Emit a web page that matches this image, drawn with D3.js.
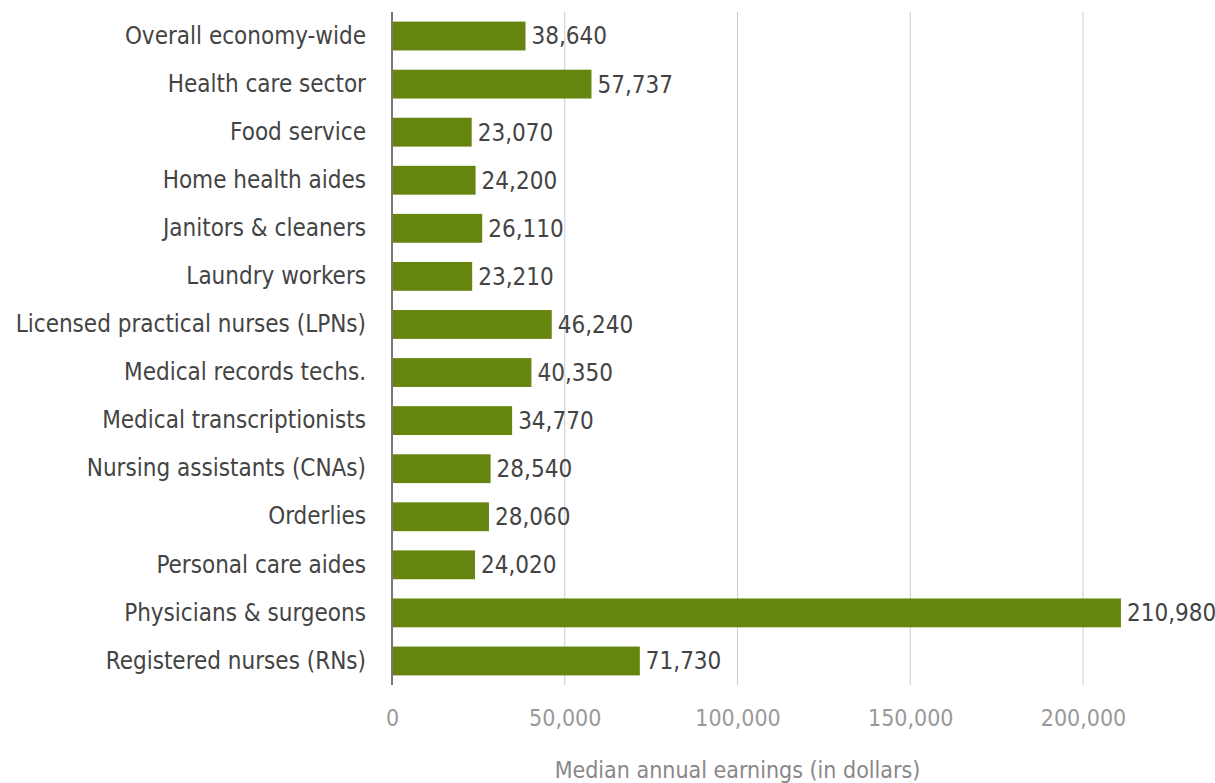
<!DOCTYPE html>
<html>
<head>
<meta charset="utf-8">
<script src="https://cdn.jsdelivr.net/npm/d3@7"></script>
<style>
  body { margin: 0; background: #fff; }
  svg text { font-family: "Liberation Sans Narrow", "DejaVu Sans Condensed", sans-serif; }
</style>
</head>
<body>
<script>
// data
const categories = [
  "Overall economy-wide",
  "Health care sector",
  "Food service",
  "Home health aides",
  "Janitors & cleaners",
  "Laundry workers",
  "Licensed practical nurses (LPNs)",
  "Medical records techs.",
  "Medical transcriptionists",
  "Nursing assistants (CNAs)",
  "Orderlies",
  "Personal care aides",
  "Physicians & surgeons",
  "Registered nurses (RNs)"
];
const earnings = [38640, 57737, 23070, 24200, 26110, 23210, 46240, 40350, 34770, 28540, 28060, 24020, 210980, 71730];
const tickValues = [0, 50000, 100000, 150000, 200000];
const axisTitle = "Median annual earnings (in dollars)";

// layout
const width = 1215;
const height = 783;
const plotLeft = 392;
const plotTop = 12;
const plotBottom = 685;

const svg = d3.select("body").append("svg")
  .attr("width", width)
  .attr("height", height);

const x = d3.scaleLinear().domain([0, 200000]).range([plotLeft, 1083]);
const y = d3.scaleBand().domain(categories).range([plotTop, plotBottom])
  .paddingInner(0.4).paddingOuter(0.2);

const fmt = d3.format(",");

// gridlines
svg.append("g")
  .selectAll("line")
  .data(tickValues.slice(1))
  .enter()
  .append("line")
  .attr("x1", d => x(d))
  .attr("x2", d => x(d))
  .attr("y1", plotTop)
  .attr("y2", plotBottom)
  .style("stroke", "#cccccc")
  .style("stroke-width", 1);

// bars
svg.append("g")
  .selectAll("rect")
  .data(earnings)
  .enter()
  .append("rect")
  .attr("x", x(0))
  .attr("y", (d, i) => y(categories[i]))
  .attr("width", d => x(d) - x(0))
  .attr("height", y.bandwidth())
  .style("fill", "#66850f");

// value labels
svg.append("g")
  .selectAll("text")
  .data(earnings)
  .enter()
  .append("text")
  .attr("x", d => x(d) + 6)
  .attr("y", (d, i) => y(categories[i]) + y.bandwidth() / 2)
  .attr("dy", "0.35em")
  .style("font-size", "24px")
  .style("fill", "#444444")
  .text(d => fmt(d));

// category axis
const yAxis = svg.append("g")
  .attr("transform", `translate(${plotLeft},0)`)
  .call(d3.axisLeft(y).tickSize(0).tickPadding(26));
yAxis.select(".domain").remove();
yAxis.selectAll("text")
  .style("font-size", "24px")
  .style("fill", "#444444");

svg.append("line")
  .attr("x1", plotLeft)
  .attr("x2", plotLeft)
  .attr("y1", plotTop)
  .attr("y2", plotBottom)
  .style("stroke", "#777777")
  .style("stroke-width", 2);

// value axis
const xAxis = svg.append("g")
  .attr("transform", `translate(0,${plotBottom})`)
  .call(d3.axisBottom(x).tickValues(tickValues).tickSize(0).tickPadding(25).tickFormat(fmt));
xAxis.select(".domain").remove();
xAxis.selectAll("text")
  .style("font-size", "23px")
  .style("fill", "#999999");

svg.append("text")
  .attr("x", x(100000))
  .attr("y", 778)
  .attr("text-anchor", "middle")
  .style("font-size", "23px")
  .style("fill", "#888888")
  .text(axisTitle);
</script>
</body>
</html>
